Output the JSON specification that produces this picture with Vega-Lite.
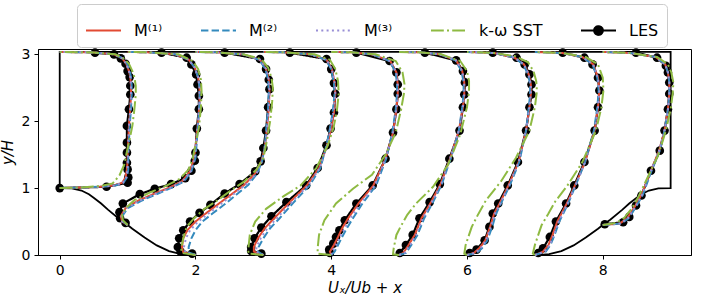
{
"$schema": "https://vega.github.io/schema/vega-lite/v6.json",
"width": 653, "height": 206,
"autosize": {"type": "none"},
"padding": {"left": 38, "top": 49, "right": 15, "bottom": 45},
"config": {"font": "DejaVu Sans", "view": {"stroke": "black", "strokeWidth": 1}},
"datasets": {
"wall": [{"x":1.93,"y":0},{"x":1.79,"y":0.012},{"x":1.61,"y":0.059},{"x":1.43,"y":0.143},{"x":1.25,"y":0.261},{"x":1.07,"y":0.393},{"x":1.0,"y":0.448},{"x":0.89,"y":0.528},{"x":0.71,"y":0.679},{"x":0.61,"y":0.77},{"x":0.5,"y":0.857},{"x":0.43,"y":0.908},{"x":0.32,"y":0.964},{"x":0.18,"y":0.997},{"x":0,"y":1},{"x":0,"y":3.036},{"x":9,"y":3.036},{"x":9,"y":1},{"x":8.82,"y":0.997},{"x":8.68,"y":0.964},{"x":8.57,"y":0.908},{"x":8.5,"y":0.857},{"x":8.39,"y":0.77},{"x":8.29,"y":0.679},{"x":8.11,"y":0.528},{"x":8.0,"y":0.448},{"x":7.93,"y":0.393},{"x":7.75,"y":0.261},{"x":7.57,"y":0.143},{"x":7.39,"y":0.059},{"x":7.21,"y":0.012},{"x":7.07,"y":0}],
"LES": [
{"p":0,"x":0,"y":1.0},{"p":0,"x":0.69,"y":1.02},{"p":0,"x":1.0,"y":1.08},{"p":0,"x":1.01,"y":1.16},{"p":0,"x":1.0,"y":1.28},{"p":0,"x":0.99,"y":1.38},{"p":0,"x":0.99,"y":1.53},{"p":0,"x":0.99,"y":1.68},{"p":0,"x":0.99,"y":1.93},{"p":0,"x":1.02,"y":2.18},{"p":0,"x":1.04,"y":2.4},{"p":0,"x":1.04,"y":2.53},{"p":0,"x":1.03,"y":2.66},{"p":0,"x":1.0,"y":2.75},{"p":0,"x":0.97,"y":2.86},{"p":0,"x":0.9,"y":2.94},{"p":0,"x":0.8,"y":3.0},{"p":0,"x":0.52,"y":3.025},
{"p":1,"x":0.97,"y":0.48},{"p":1,"x":0.89,"y":0.55},{"p":1,"x":0.88,"y":0.64},{"p":1,"x":0.93,"y":0.77},{"p":1,"x":1.18,"y":0.91},{"p":1,"x":1.4,"y":0.99},{"p":1,"x":1.64,"y":1.06},{"p":1,"x":1.85,"y":1.15},{"p":1,"x":1.94,"y":1.26},{"p":1,"x":1.99,"y":1.41},{"p":1,"x":2.0,"y":1.53},{"p":1,"x":2.02,"y":1.89},{"p":1,"x":2.05,"y":2.18},{"p":1,"x":2.05,"y":2.38},{"p":1,"x":2.03,"y":2.55},{"p":1,"x":2.01,"y":2.7},{"p":1,"x":1.94,"y":2.85},{"p":1,"x":1.87,"y":2.95},{"p":1,"x":1.5,"y":3.025},
{"p":2,"x":1.95,"y":0.02},{"p":2,"x":1.78,"y":0.05},{"p":2,"x":1.74,"y":0.12},{"p":2,"x":1.76,"y":0.25},{"p":2,"x":1.82,"y":0.37},{"p":2,"x":1.92,"y":0.5},{"p":2,"x":2.06,"y":0.63},{"p":2,"x":2.22,"y":0.75},{"p":2,"x":2.43,"y":0.92},{"p":2,"x":2.65,"y":1.06},{"p":2,"x":2.88,"y":1.25},{"p":2,"x":2.96,"y":1.4},{"p":2,"x":3.0,"y":1.6},{"p":2,"x":3.04,"y":1.86},{"p":2,"x":3.07,"y":2.21},{"p":2,"x":3.09,"y":2.48},{"p":2,"x":3.08,"y":2.62},{"p":2,"x":3.04,"y":2.78},{"p":2,"x":2.95,"y":2.93},{"p":2,"x":2.43,"y":3.025},
{"p":3,"x":2.97,"y":0.02},{"p":3,"x":2.82,"y":0.06},{"p":3,"x":2.82,"y":0.12},{"p":3,"x":2.87,"y":0.25},{"p":3,"x":2.97,"y":0.41},{"p":3,"x":3.12,"y":0.58},{"p":3,"x":3.34,"y":0.79},{"p":3,"x":3.63,"y":1.04},{"p":3,"x":3.8,"y":1.3},{"p":3,"x":3.93,"y":1.64},{"p":3,"x":3.99,"y":1.89},{"p":3,"x":4.04,"y":2.13},{"p":3,"x":4.06,"y":2.41},{"p":3,"x":4.04,"y":2.57},{"p":3,"x":4.0,"y":2.78},{"p":3,"x":3.93,"y":2.93},{"p":3,"x":3.39,"y":3.025},
{"p":4,"x":3.98,"y":0.03},{"p":4,"x":3.97,"y":0.08},{"p":4,"x":4.03,"y":0.17},{"p":4,"x":4.07,"y":0.27},{"p":4,"x":4.12,"y":0.37},{"p":4,"x":4.2,"y":0.52},{"p":4,"x":4.37,"y":0.77},{"p":4,"x":4.61,"y":1.04},{"p":4,"x":4.8,"y":1.44},{"p":4,"x":4.91,"y":1.83},{"p":4,"x":4.96,"y":2.18},{"p":4,"x":4.98,"y":2.41},{"p":4,"x":4.98,"y":2.55},{"p":4,"x":4.96,"y":2.73},{"p":4,"x":4.86,"y":2.9},{"p":4,"x":4.37,"y":3.025},
{"p":5,"x":5.01,"y":0.03},{"p":5,"x":5.1,"y":0.15},{"p":5,"x":5.2,"y":0.3},{"p":5,"x":5.3,"y":0.55},{"p":5,"x":5.45,"y":0.79},{"p":5,"x":5.6,"y":1.06},{"p":5,"x":5.74,"y":1.44},{"p":5,"x":5.89,"y":1.86},{"p":5,"x":5.94,"y":2.21},{"p":5,"x":5.96,"y":2.4},{"p":5,"x":5.97,"y":2.58},{"p":5,"x":5.94,"y":2.75},{"p":5,"x":5.84,"y":2.91},{"p":5,"x":5.38,"y":3.025},
{"p":6,"x":6.04,"y":0.03},{"p":6,"x":6.14,"y":0.08},{"p":6,"x":6.26,"y":0.22},{"p":6,"x":6.33,"y":0.42},{"p":6,"x":6.38,"y":0.62},{"p":6,"x":6.46,"y":0.77},{"p":6,"x":6.6,"y":1.04},{"p":6,"x":6.75,"y":1.39},{"p":6,"x":6.87,"y":1.86},{"p":6,"x":6.92,"y":2.21},{"p":6,"x":6.95,"y":2.4},{"p":6,"x":6.95,"y":2.55},{"p":6,"x":6.92,"y":2.7},{"p":6,"x":6.85,"y":2.85},{"p":6,"x":6.73,"y":2.95},{"p":6,"x":6.38,"y":3.025},
{"p":7,"x":7.05,"y":0.03},{"p":7,"x":7.12,"y":0.1},{"p":7,"x":7.22,"y":0.27},{"p":7,"x":7.31,"y":0.5},{"p":7,"x":7.46,"y":0.77},{"p":7,"x":7.58,"y":1.04},{"p":7,"x":7.73,"y":1.39},{"p":7,"x":7.88,"y":1.86},{"p":7,"x":7.93,"y":2.21},{"p":7,"x":7.95,"y":2.46},{"p":7,"x":7.93,"y":2.65},{"p":7,"x":7.85,"y":2.85},{"p":7,"x":7.73,"y":2.95},{"p":7,"x":7.41,"y":3.025},
{"p":8,"x":8.03,"y":0.46},{"p":8,"x":8.3,"y":0.49},{"p":8,"x":8.39,"y":0.57},{"p":8,"x":8.49,"y":0.74},{"p":8,"x":8.57,"y":0.89},{"p":8,"x":8.71,"y":1.26},{"p":8,"x":8.84,"y":1.56},{"p":8,"x":8.91,"y":1.86},{"p":8,"x":8.96,"y":2.18},{"p":8,"x":8.98,"y":2.41},{"p":8,"x":8.98,"y":2.58},{"p":8,"x":8.96,"y":2.73},{"p":8,"x":8.93,"y":2.83},{"p":8,"x":8.8,"y":2.95},{"p":8,"x":8.49,"y":3.025}],
"M1": [
{"p":0,"x":0,"y":1},{"p":0,"x":0.3,"y":1.01},{"p":0,"x":0.6,"y":1.02},{"p":0,"x":0.8,"y":1.04},{"p":0,"x":0.92,"y":1.08},{"p":0,"x":0.97,"y":1.16},{"p":0,"x":0.99,"y":1.28},{"p":0,"x":1.0,"y":1.4},{"p":0,"x":1.0,"y":1.55},{"p":0,"x":1.01,"y":1.7},{"p":0,"x":1.02,"y":1.93},{"p":0,"x":1.04,"y":2.18},{"p":0,"x":1.05,"y":2.4},{"p":0,"x":1.05,"y":2.53},{"p":0,"x":1.04,"y":2.66},{"p":0,"x":1.02,"y":2.75},{"p":0,"x":0.98,"y":2.86},{"p":0,"x":0.92,"y":2.94},{"p":0,"x":0.8,"y":3.0},{"p":0,"x":0.5,"y":3.028},{"p":0,"x":0,"y":3.036},
{"p":1,"x":1.0,"y":0.448},{"p":1,"x":0.92,"y":0.5},{"p":1,"x":0.9,"y":0.58},{"p":1,"x":0.97,"y":0.7},{"p":1,"x":1.15,"y":0.81},{"p":1,"x":1.4,"y":0.92},{"p":1,"x":1.62,"y":1.01},{"p":1,"x":1.8,"y":1.1},{"p":1,"x":1.92,"y":1.25},{"p":1,"x":1.98,"y":1.45},{"p":1,"x":2.01,"y":1.7},{"p":1,"x":2.04,"y":2.0},{"p":1,"x":2.06,"y":2.3},{"p":1,"x":2.06,"y":2.5},{"p":1,"x":2.04,"y":2.65},{"p":1,"x":1.99,"y":2.8},{"p":1,"x":1.9,"y":2.92},{"p":1,"x":1.7,"y":3.0},{"p":1,"x":1.3,"y":3.03},{"p":1,"x":1.0,"y":3.036},
{"p":2,"x":2.0,"y":0},{"p":2,"x":1.82,"y":0.04},{"p":2,"x":1.8,"y":0.12},{"p":2,"x":1.82,"y":0.25},{"p":2,"x":1.88,"y":0.37},{"p":2,"x":2.0,"y":0.5},{"p":2,"x":2.15,"y":0.62},{"p":2,"x":2.32,"y":0.75},{"p":2,"x":2.52,"y":0.9},{"p":2,"x":2.72,"y":1.05},{"p":2,"x":2.88,"y":1.22},{"p":2,"x":2.97,"y":1.4},{"p":2,"x":3.02,"y":1.6},{"p":2,"x":3.05,"y":1.86},{"p":2,"x":3.08,"y":2.2},{"p":2,"x":3.09,"y":2.45},{"p":2,"x":3.08,"y":2.62},{"p":2,"x":3.04,"y":2.78},{"p":2,"x":2.95,"y":2.92},{"p":2,"x":2.7,"y":3.0},{"p":2,"x":2.3,"y":3.03},{"p":2,"x":2.0,"y":3.036},
{"p":3,"x":3.0,"y":0},{"p":3,"x":2.86,"y":0.05},{"p":3,"x":2.86,"y":0.12},{"p":3,"x":2.92,"y":0.25},{"p":3,"x":3.02,"y":0.4},{"p":3,"x":3.16,"y":0.55},{"p":3,"x":3.38,"y":0.78},{"p":3,"x":3.64,"y":1.04},{"p":3,"x":3.82,"y":1.3},{"p":3,"x":3.94,"y":1.64},{"p":3,"x":4.0,"y":1.89},{"p":3,"x":4.04,"y":2.13},{"p":3,"x":4.06,"y":2.41},{"p":3,"x":4.05,"y":2.57},{"p":3,"x":4.01,"y":2.78},{"p":3,"x":3.93,"y":2.92},{"p":3,"x":3.7,"y":3.0},{"p":3,"x":3.3,"y":3.03},{"p":3,"x":3.0,"y":3.036},
{"p":4,"x":4.0,"y":0},{"p":4,"x":3.98,"y":0.05},{"p":4,"x":4.04,"y":0.15},{"p":4,"x":4.1,"y":0.27},{"p":4,"x":4.16,"y":0.4},{"p":4,"x":4.25,"y":0.55},{"p":4,"x":4.4,"y":0.77},{"p":4,"x":4.62,"y":1.04},{"p":4,"x":4.8,"y":1.44},{"p":4,"x":4.91,"y":1.83},{"p":4,"x":4.96,"y":2.18},{"p":4,"x":4.98,"y":2.41},{"p":4,"x":4.98,"y":2.55},{"p":4,"x":4.96,"y":2.73},{"p":4,"x":4.87,"y":2.9},{"p":4,"x":4.6,"y":3.0},{"p":4,"x":4.3,"y":3.03},{"p":4,"x":4.0,"y":3.036},
{"p":5,"x":5.0,"y":0},{"p":5,"x":5.06,"y":0.03},{"p":5,"x":5.14,"y":0.15},{"p":5,"x":5.23,"y":0.3},{"p":5,"x":5.33,"y":0.55},{"p":5,"x":5.47,"y":0.79},{"p":5,"x":5.61,"y":1.06},{"p":5,"x":5.75,"y":1.44},{"p":5,"x":5.88,"y":1.86},{"p":5,"x":5.94,"y":2.21},{"p":5,"x":5.96,"y":2.4},{"p":5,"x":5.96,"y":2.58},{"p":5,"x":5.93,"y":2.75},{"p":5,"x":5.84,"y":2.91},{"p":5,"x":5.6,"y":3.0},{"p":5,"x":5.3,"y":3.03},{"p":5,"x":5.0,"y":3.036},
{"p":6,"x":6.0,"y":0},{"p":6,"x":6.1,"y":0.03},{"p":6,"x":6.18,"y":0.1},{"p":6,"x":6.27,"y":0.22},{"p":6,"x":6.34,"y":0.42},{"p":6,"x":6.4,"y":0.62},{"p":6,"x":6.48,"y":0.77},{"p":6,"x":6.61,"y":1.04},{"p":6,"x":6.76,"y":1.39},{"p":6,"x":6.87,"y":1.86},{"p":6,"x":6.92,"y":2.21},{"p":6,"x":6.94,"y":2.4},{"p":6,"x":6.94,"y":2.55},{"p":6,"x":6.91,"y":2.7},{"p":6,"x":6.84,"y":2.85},{"p":6,"x":6.7,"y":2.95},{"p":6,"x":6.4,"y":3.02},{"p":6,"x":6.0,"y":3.036},
{"p":7,"x":7.0,"y":0},{"p":7,"x":7.12,"y":0.05},{"p":7,"x":7.2,"y":0.15},{"p":7,"x":7.26,"y":0.3},{"p":7,"x":7.33,"y":0.5},{"p":7,"x":7.47,"y":0.77},{"p":7,"x":7.59,"y":1.04},{"p":7,"x":7.74,"y":1.39},{"p":7,"x":7.88,"y":1.86},{"p":7,"x":7.93,"y":2.21},{"p":7,"x":7.95,"y":2.46},{"p":7,"x":7.93,"y":2.65},{"p":7,"x":7.86,"y":2.85},{"p":7,"x":7.7,"y":2.96},{"p":7,"x":7.4,"y":3.02},{"p":7,"x":7.0,"y":3.036},
{"p":8,"x":8.0,"y":0.448},{"p":8,"x":8.25,"y":0.47},{"p":8,"x":8.36,"y":0.55},{"p":8,"x":8.47,"y":0.72},{"p":8,"x":8.57,"y":0.9},{"p":8,"x":8.71,"y":1.26},{"p":8,"x":8.83,"y":1.56},{"p":8,"x":8.91,"y":1.86},{"p":8,"x":8.96,"y":2.18},{"p":8,"x":8.98,"y":2.41},{"p":8,"x":8.98,"y":2.58},{"p":8,"x":8.96,"y":2.73},{"p":8,"x":8.92,"y":2.85},{"p":8,"x":8.78,"y":2.96},{"p":8,"x":8.4,"y":3.02},{"p":8,"x":8.0,"y":3.036}],
"M2": [
{"p":0,"x":0,"y":1},{"p":0,"x":0.3,"y":1.01},{"p":0,"x":0.6,"y":1.02},{"p":0,"x":0.82,"y":1.04},{"p":0,"x":0.94,"y":1.08},{"p":0,"x":0.99,"y":1.16},{"p":0,"x":1.01,"y":1.28},{"p":0,"x":1.01,"y":1.4},{"p":0,"x":1.01,"y":1.55},{"p":0,"x":1.02,"y":1.7},{"p":0,"x":1.03,"y":1.93},{"p":0,"x":1.05,"y":2.18},{"p":0,"x":1.06,"y":2.4},{"p":0,"x":1.06,"y":2.53},{"p":0,"x":1.05,"y":2.66},{"p":0,"x":1.03,"y":2.75},{"p":0,"x":0.99,"y":2.86},{"p":0,"x":0.93,"y":2.94},{"p":0,"x":0.8,"y":3.0},{"p":0,"x":0.5,"y":3.028},{"p":0,"x":0,"y":3.036},
{"p":1,"x":1.0,"y":0.448},{"p":1,"x":0.93,"y":0.5},{"p":1,"x":0.92,"y":0.58},{"p":1,"x":1.0,"y":0.7},{"p":1,"x":1.2,"y":0.81},{"p":1,"x":1.45,"y":0.92},{"p":1,"x":1.66,"y":1.01},{"p":1,"x":1.83,"y":1.1},{"p":1,"x":1.94,"y":1.25},{"p":1,"x":2.0,"y":1.45},{"p":1,"x":2.02,"y":1.7},{"p":1,"x":2.04,"y":2.0},{"p":1,"x":2.06,"y":2.3},{"p":1,"x":2.06,"y":2.5},{"p":1,"x":2.04,"y":2.65},{"p":1,"x":1.99,"y":2.8},{"p":1,"x":1.9,"y":2.92},{"p":1,"x":1.7,"y":3.0},{"p":1,"x":1.3,"y":3.03},{"p":1,"x":1.0,"y":3.036},
{"p":2,"x":2.0,"y":0},{"p":2,"x":1.9,"y":0.04},{"p":2,"x":1.9,"y":0.12},{"p":2,"x":1.94,"y":0.25},{"p":2,"x":2.0,"y":0.37},{"p":2,"x":2.1,"y":0.5},{"p":2,"x":2.25,"y":0.62},{"p":2,"x":2.42,"y":0.75},{"p":2,"x":2.6,"y":0.9},{"p":2,"x":2.78,"y":1.05},{"p":2,"x":2.91,"y":1.22},{"p":2,"x":2.98,"y":1.4},{"p":2,"x":3.02,"y":1.6},{"p":2,"x":3.04,"y":1.86},{"p":2,"x":3.07,"y":2.2},{"p":2,"x":3.08,"y":2.45},{"p":2,"x":3.07,"y":2.62},{"p":2,"x":3.03,"y":2.78},{"p":2,"x":2.94,"y":2.92},{"p":2,"x":2.7,"y":3.0},{"p":2,"x":2.3,"y":3.03},{"p":2,"x":2.0,"y":3.036},
{"p":3,"x":3.0,"y":0},{"p":3,"x":2.92,"y":0.05},{"p":3,"x":2.93,"y":0.12},{"p":3,"x":3.0,"y":0.25},{"p":3,"x":3.1,"y":0.4},{"p":3,"x":3.24,"y":0.55},{"p":3,"x":3.44,"y":0.78},{"p":3,"x":3.68,"y":1.04},{"p":3,"x":3.84,"y":1.3},{"p":3,"x":3.93,"y":1.64},{"p":3,"x":3.98,"y":1.89},{"p":3,"x":4.02,"y":2.13},{"p":3,"x":4.05,"y":2.41},{"p":3,"x":4.04,"y":2.57},{"p":3,"x":4.0,"y":2.78},{"p":3,"x":3.92,"y":2.92},{"p":3,"x":3.7,"y":3.0},{"p":3,"x":3.3,"y":3.03},{"p":3,"x":3.0,"y":3.036},
{"p":4,"x":4.0,"y":0},{"p":4,"x":4.05,"y":0.05},{"p":4,"x":4.1,"y":0.15},{"p":4,"x":4.16,"y":0.27},{"p":4,"x":4.23,"y":0.4},{"p":4,"x":4.32,"y":0.55},{"p":4,"x":4.46,"y":0.77},{"p":4,"x":4.66,"y":1.04},{"p":4,"x":4.81,"y":1.44},{"p":4,"x":4.9,"y":1.83},{"p":4,"x":4.95,"y":2.18},{"p":4,"x":4.97,"y":2.41},{"p":4,"x":4.97,"y":2.55},{"p":4,"x":4.95,"y":2.73},{"p":4,"x":4.86,"y":2.9},{"p":4,"x":4.6,"y":3.0},{"p":4,"x":4.3,"y":3.03},{"p":4,"x":4.0,"y":3.036},
{"p":5,"x":5.0,"y":0},{"p":5,"x":5.1,"y":0.03},{"p":5,"x":5.18,"y":0.15},{"p":5,"x":5.27,"y":0.3},{"p":5,"x":5.37,"y":0.55},{"p":5,"x":5.5,"y":0.79},{"p":5,"x":5.63,"y":1.06},{"p":5,"x":5.76,"y":1.44},{"p":5,"x":5.88,"y":1.86},{"p":5,"x":5.93,"y":2.21},{"p":5,"x":5.95,"y":2.4},{"p":5,"x":5.95,"y":2.58},{"p":5,"x":5.92,"y":2.75},{"p":5,"x":5.83,"y":2.91},{"p":5,"x":5.6,"y":3.0},{"p":5,"x":5.3,"y":3.03},{"p":5,"x":5.0,"y":3.036},
{"p":6,"x":6.0,"y":0},{"p":6,"x":6.14,"y":0.03},{"p":6,"x":6.22,"y":0.1},{"p":6,"x":6.3,"y":0.22},{"p":6,"x":6.37,"y":0.42},{"p":6,"x":6.43,"y":0.62},{"p":6,"x":6.5,"y":0.77},{"p":6,"x":6.63,"y":1.04},{"p":6,"x":6.77,"y":1.39},{"p":6,"x":6.87,"y":1.86},{"p":6,"x":6.91,"y":2.21},{"p":6,"x":6.93,"y":2.4},{"p":6,"x":6.93,"y":2.55},{"p":6,"x":6.9,"y":2.7},{"p":6,"x":6.83,"y":2.85},{"p":6,"x":6.7,"y":2.95},{"p":6,"x":6.4,"y":3.02},{"p":6,"x":6.0,"y":3.036},
{"p":7,"x":7.0,"y":0},{"p":7,"x":7.16,"y":0.05},{"p":7,"x":7.23,"y":0.15},{"p":7,"x":7.29,"y":0.3},{"p":7,"x":7.36,"y":0.5},{"p":7,"x":7.49,"y":0.77},{"p":7,"x":7.6,"y":1.04},{"p":7,"x":7.74,"y":1.39},{"p":7,"x":7.87,"y":1.86},{"p":7,"x":7.92,"y":2.21},{"p":7,"x":7.94,"y":2.46},{"p":7,"x":7.92,"y":2.65},{"p":7,"x":7.85,"y":2.85},{"p":7,"x":7.7,"y":2.96},{"p":7,"x":7.4,"y":3.02},{"p":7,"x":7.0,"y":3.036},
{"p":8,"x":8.0,"y":0.448},{"p":8,"x":8.27,"y":0.47},{"p":8,"x":8.38,"y":0.55},{"p":8,"x":8.49,"y":0.72},{"p":8,"x":8.59,"y":0.9},{"p":8,"x":8.72,"y":1.26},{"p":8,"x":8.84,"y":1.56},{"p":8,"x":8.91,"y":1.86},{"p":8,"x":8.96,"y":2.18},{"p":8,"x":8.98,"y":2.41},{"p":8,"x":8.98,"y":2.58},{"p":8,"x":8.96,"y":2.73},{"p":8,"x":8.92,"y":2.85},{"p":8,"x":8.78,"y":2.96},{"p":8,"x":8.4,"y":3.02},{"p":8,"x":8.0,"y":3.036}],
"M3": [
{"p":0,"x":0,"y":1},{"p":0,"x":0.3,"y":1.01},{"p":0,"x":0.6,"y":1.02},{"p":0,"x":0.81,"y":1.04},{"p":0,"x":0.93,"y":1.08},{"p":0,"x":0.98,"y":1.16},{"p":0,"x":1.0,"y":1.28},{"p":0,"x":1.0,"y":1.4},{"p":0,"x":1.01,"y":1.55},{"p":0,"x":1.01,"y":1.7},{"p":0,"x":1.02,"y":1.93},{"p":0,"x":1.04,"y":2.18},{"p":0,"x":1.05,"y":2.4},{"p":0,"x":1.05,"y":2.53},{"p":0,"x":1.04,"y":2.66},{"p":0,"x":1.02,"y":2.75},{"p":0,"x":0.98,"y":2.86},{"p":0,"x":0.92,"y":2.94},{"p":0,"x":0.8,"y":3.0},{"p":0,"x":0.5,"y":3.028},{"p":0,"x":0,"y":3.036},
{"p":1,"x":1.0,"y":0.448},{"p":1,"x":0.92,"y":0.5},{"p":1,"x":0.91,"y":0.58},{"p":1,"x":0.98,"y":0.7},{"p":1,"x":1.17,"y":0.81},{"p":1,"x":1.42,"y":0.92},{"p":1,"x":1.64,"y":1.01},{"p":1,"x":1.81,"y":1.1},{"p":1,"x":1.93,"y":1.25},{"p":1,"x":1.99,"y":1.45},{"p":1,"x":2.01,"y":1.7},{"p":1,"x":2.04,"y":2.0},{"p":1,"x":2.06,"y":2.3},{"p":1,"x":2.06,"y":2.5},{"p":1,"x":2.04,"y":2.65},{"p":1,"x":1.99,"y":2.8},{"p":1,"x":1.9,"y":2.92},{"p":1,"x":1.7,"y":3.0},{"p":1,"x":1.3,"y":3.03},{"p":1,"x":1.0,"y":3.036},
{"p":2,"x":2.0,"y":0},{"p":2,"x":1.85,"y":0.04},{"p":2,"x":1.83,"y":0.12},{"p":2,"x":1.86,"y":0.25},{"p":2,"x":1.92,"y":0.37},{"p":2,"x":2.04,"y":0.5},{"p":2,"x":2.19,"y":0.62},{"p":2,"x":2.36,"y":0.75},{"p":2,"x":2.55,"y":0.9},{"p":2,"x":2.74,"y":1.05},{"p":2,"x":2.9,"y":1.22},{"p":2,"x":2.98,"y":1.4},{"p":2,"x":3.02,"y":1.6},{"p":2,"x":3.05,"y":1.86},{"p":2,"x":3.08,"y":2.2},{"p":2,"x":3.09,"y":2.45},{"p":2,"x":3.08,"y":2.62},{"p":2,"x":3.04,"y":2.78},{"p":2,"x":2.95,"y":2.92},{"p":2,"x":2.7,"y":3.0},{"p":2,"x":2.3,"y":3.03},{"p":2,"x":2.0,"y":3.036},
{"p":3,"x":3.0,"y":0},{"p":3,"x":2.89,"y":0.05},{"p":3,"x":2.9,"y":0.12},{"p":3,"x":2.96,"y":0.25},{"p":3,"x":3.06,"y":0.4},{"p":3,"x":3.2,"y":0.55},{"p":3,"x":3.41,"y":0.78},{"p":3,"x":3.66,"y":1.04},{"p":3,"x":3.83,"y":1.3},{"p":3,"x":3.94,"y":1.64},{"p":3,"x":3.99,"y":1.89},{"p":3,"x":4.03,"y":2.13},{"p":3,"x":4.06,"y":2.41},{"p":3,"x":4.05,"y":2.57},{"p":3,"x":4.01,"y":2.78},{"p":3,"x":3.93,"y":2.92},{"p":3,"x":3.7,"y":3.0},{"p":3,"x":3.3,"y":3.03},{"p":3,"x":3.0,"y":3.036},
{"p":4,"x":4.0,"y":0},{"p":4,"x":4.01,"y":0.05},{"p":4,"x":4.07,"y":0.15},{"p":4,"x":4.13,"y":0.27},{"p":4,"x":4.2,"y":0.4},{"p":4,"x":4.28,"y":0.55},{"p":4,"x":4.43,"y":0.77},{"p":4,"x":4.64,"y":1.04},{"p":4,"x":4.8,"y":1.44},{"p":4,"x":4.91,"y":1.83},{"p":4,"x":4.96,"y":2.18},{"p":4,"x":4.98,"y":2.41},{"p":4,"x":4.98,"y":2.55},{"p":4,"x":4.96,"y":2.73},{"p":4,"x":4.87,"y":2.9},{"p":4,"x":4.6,"y":3.0},{"p":4,"x":4.3,"y":3.03},{"p":4,"x":4.0,"y":3.036},
{"p":5,"x":5.0,"y":0},{"p":5,"x":5.08,"y":0.03},{"p":5,"x":5.16,"y":0.15},{"p":5,"x":5.25,"y":0.3},{"p":5,"x":5.35,"y":0.55},{"p":5,"x":5.48,"y":0.79},{"p":5,"x":5.62,"y":1.06},{"p":5,"x":5.75,"y":1.44},{"p":5,"x":5.88,"y":1.86},{"p":5,"x":5.94,"y":2.21},{"p":5,"x":5.96,"y":2.4},{"p":5,"x":5.96,"y":2.58},{"p":5,"x":5.93,"y":2.75},{"p":5,"x":5.84,"y":2.91},{"p":5,"x":5.6,"y":3.0},{"p":5,"x":5.3,"y":3.03},{"p":5,"x":5.0,"y":3.036},
{"p":6,"x":6.0,"y":0},{"p":6,"x":6.12,"y":0.03},{"p":6,"x":6.2,"y":0.1},{"p":6,"x":6.28,"y":0.22},{"p":6,"x":6.35,"y":0.42},{"p":6,"x":6.41,"y":0.62},{"p":6,"x":6.49,"y":0.77},{"p":6,"x":6.62,"y":1.04},{"p":6,"x":6.76,"y":1.39},{"p":6,"x":6.87,"y":1.86},{"p":6,"x":6.92,"y":2.21},{"p":6,"x":6.94,"y":2.4},{"p":6,"x":6.94,"y":2.55},{"p":6,"x":6.91,"y":2.7},{"p":6,"x":6.84,"y":2.85},{"p":6,"x":6.7,"y":2.95},{"p":6,"x":6.4,"y":3.02},{"p":6,"x":6.0,"y":3.036},
{"p":7,"x":7.0,"y":0},{"p":7,"x":7.14,"y":0.05},{"p":7,"x":7.22,"y":0.15},{"p":7,"x":7.28,"y":0.3},{"p":7,"x":7.35,"y":0.5},{"p":7,"x":7.48,"y":0.77},{"p":7,"x":7.6,"y":1.04},{"p":7,"x":7.74,"y":1.39},{"p":7,"x":7.88,"y":1.86},{"p":7,"x":7.93,"y":2.21},{"p":7,"x":7.95,"y":2.46},{"p":7,"x":7.93,"y":2.65},{"p":7,"x":7.86,"y":2.85},{"p":7,"x":7.7,"y":2.96},{"p":7,"x":7.4,"y":3.02},{"p":7,"x":7.0,"y":3.036},
{"p":8,"x":8.0,"y":0.448},{"p":8,"x":8.26,"y":0.47},{"p":8,"x":8.37,"y":0.55},{"p":8,"x":8.48,"y":0.72},{"p":8,"x":8.58,"y":0.9},{"p":8,"x":8.71,"y":1.26},{"p":8,"x":8.83,"y":1.56},{"p":8,"x":8.91,"y":1.86},{"p":8,"x":8.96,"y":2.18},{"p":8,"x":8.98,"y":2.41},{"p":8,"x":8.98,"y":2.58},{"p":8,"x":8.96,"y":2.73},{"p":8,"x":8.92,"y":2.85},{"p":8,"x":8.78,"y":2.96},{"p":8,"x":8.4,"y":3.02},{"p":8,"x":8.0,"y":3.036}],
"SST": [
{"p":0,"x":0,"y":1},{"p":0,"x":0.3,"y":1.01},{"p":0,"x":0.6,"y":1.03},{"p":0,"x":0.78,"y":1.07},{"p":0,"x":0.88,"y":1.19},{"p":0,"x":0.95,"y":1.35},{"p":0,"x":0.98,"y":1.5},{"p":0,"x":1.02,"y":1.68},{"p":0,"x":1.07,"y":1.93},{"p":0,"x":1.1,"y":2.18},{"p":0,"x":1.12,"y":2.4},{"p":0,"x":1.12,"y":2.53},{"p":0,"x":1.1,"y":2.66},{"p":0,"x":1.07,"y":2.75},{"p":0,"x":1.02,"y":2.86},{"p":0,"x":0.94,"y":2.94},{"p":0,"x":0.82,"y":3.0},{"p":0,"x":0.5,"y":3.028},{"p":0,"x":0,"y":3.036},
{"p":1,"x":1.0,"y":0.448},{"p":1,"x":0.93,"y":0.52},{"p":1,"x":0.92,"y":0.6},{"p":1,"x":0.97,"y":0.7},{"p":1,"x":1.1,"y":0.82},{"p":1,"x":1.34,"y":0.94},{"p":1,"x":1.58,"y":1.04},{"p":1,"x":1.77,"y":1.14},{"p":1,"x":1.9,"y":1.28},{"p":1,"x":1.96,"y":1.45},{"p":1,"x":2.0,"y":1.65},{"p":1,"x":2.05,"y":1.9},{"p":1,"x":2.08,"y":2.2},{"p":1,"x":2.09,"y":2.45},{"p":1,"x":2.08,"y":2.62},{"p":1,"x":2.04,"y":2.78},{"p":1,"x":1.96,"y":2.9},{"p":1,"x":1.75,"y":3.0},{"p":1,"x":1.3,"y":3.03},{"p":1,"x":1.0,"y":3.036},
{"p":2,"x":2.0,"y":0},{"p":2,"x":1.8,"y":0.03},{"p":2,"x":1.79,"y":0.1},{"p":2,"x":1.82,"y":0.25},{"p":2,"x":1.87,"y":0.42},{"p":2,"x":1.98,"y":0.55},{"p":2,"x":2.12,"y":0.68},{"p":2,"x":2.3,"y":0.8},{"p":2,"x":2.5,"y":0.95},{"p":2,"x":2.72,"y":1.1},{"p":2,"x":2.9,"y":1.28},{"p":2,"x":3.0,"y":1.45},{"p":2,"x":3.05,"y":1.7},{"p":2,"x":3.1,"y":2.0},{"p":2,"x":3.13,"y":2.3},{"p":2,"x":3.14,"y":2.5},{"p":2,"x":3.12,"y":2.65},{"p":2,"x":3.07,"y":2.8},{"p":2,"x":2.97,"y":2.93},{"p":2,"x":2.7,"y":3.0},{"p":2,"x":2.3,"y":3.03},{"p":2,"x":2.0,"y":3.036},
{"p":3,"x":3.0,"y":0},{"p":3,"x":2.78,"y":0.02},{"p":3,"x":2.78,"y":0.1},{"p":3,"x":2.8,"y":0.3},{"p":3,"x":2.88,"y":0.5},{"p":3,"x":3.04,"y":0.69},{"p":3,"x":3.3,"y":0.88},{"p":3,"x":3.55,"y":1.04},{"p":3,"x":3.78,"y":1.3},{"p":3,"x":3.95,"y":1.64},{"p":3,"x":4.03,"y":1.89},{"p":3,"x":4.08,"y":2.13},{"p":3,"x":4.11,"y":2.41},{"p":3,"x":4.1,"y":2.6},{"p":3,"x":4.06,"y":2.78},{"p":3,"x":3.98,"y":2.92},{"p":3,"x":3.75,"y":3.0},{"p":3,"x":3.3,"y":3.03},{"p":3,"x":3.0,"y":3.036},
{"p":4,"x":4.0,"y":0},{"p":4,"x":3.8,"y":0.02},{"p":4,"x":3.8,"y":0.1},{"p":4,"x":3.82,"y":0.3},{"p":4,"x":3.9,"y":0.52},{"p":4,"x":4.07,"y":0.77},{"p":4,"x":4.32,"y":0.99},{"p":4,"x":4.6,"y":1.2},{"p":4,"x":4.8,"y":1.5},{"p":4,"x":4.95,"y":1.83},{"p":4,"x":5.03,"y":2.18},{"p":4,"x":5.07,"y":2.41},{"p":4,"x":5.08,"y":2.55},{"p":4,"x":5.05,"y":2.73},{"p":4,"x":4.95,"y":2.9},{"p":4,"x":4.65,"y":3.0},{"p":4,"x":4.3,"y":3.03},{"p":4,"x":4.0,"y":3.036},
{"p":5,"x":5.0,"y":0},{"p":5,"x":4.91,"y":0.01},{"p":5,"x":4.92,"y":0.1},{"p":5,"x":4.96,"y":0.3},{"p":5,"x":5.02,"y":0.42},{"p":5,"x":5.12,"y":0.6},{"p":5,"x":5.25,"y":0.77},{"p":5,"x":5.5,"y":1.02},{"p":5,"x":5.72,"y":1.35},{"p":5,"x":5.9,"y":1.8},{"p":5,"x":6.0,"y":2.21},{"p":5,"x":6.03,"y":2.45},{"p":5,"x":6.03,"y":2.6},{"p":5,"x":6.0,"y":2.75},{"p":5,"x":5.9,"y":2.9},{"p":5,"x":5.62,"y":3.0},{"p":5,"x":5.3,"y":3.03},{"p":5,"x":5.0,"y":3.036},
{"p":6,"x":6.0,"y":0},{"p":6,"x":5.96,"y":0.02},{"p":6,"x":5.98,"y":0.15},{"p":6,"x":6.03,"y":0.3},{"p":6,"x":6.07,"y":0.42},{"p":6,"x":6.16,"y":0.6},{"p":6,"x":6.28,"y":0.82},{"p":6,"x":6.5,"y":1.1},{"p":6,"x":6.72,"y":1.45},{"p":6,"x":6.92,"y":1.86},{"p":6,"x":7.0,"y":2.21},{"p":6,"x":7.03,"y":2.45},{"p":6,"x":7.02,"y":2.6},{"p":6,"x":6.98,"y":2.75},{"p":6,"x":6.9,"y":2.88},{"p":6,"x":6.72,"y":2.97},{"p":6,"x":6.4,"y":3.02},{"p":6,"x":6.0,"y":3.036},
{"p":7,"x":7.0,"y":0},{"p":7,"x":6.97,"y":0.02},{"p":7,"x":7.0,"y":0.15},{"p":7,"x":7.05,"y":0.3},{"p":7,"x":7.1,"y":0.45},{"p":7,"x":7.2,"y":0.62},{"p":7,"x":7.3,"y":0.8},{"p":7,"x":7.48,"y":1.04},{"p":7,"x":7.7,"y":1.39},{"p":7,"x":7.9,"y":1.86},{"p":7,"x":7.98,"y":2.21},{"p":7,"x":8.01,"y":2.46},{"p":7,"x":8.0,"y":2.65},{"p":7,"x":7.93,"y":2.85},{"p":7,"x":7.75,"y":2.96},{"p":7,"x":7.4,"y":3.02},{"p":7,"x":7.0,"y":3.036},
{"p":8,"x":8.0,"y":0.448},{"p":8,"x":8.2,"y":0.48},{"p":8,"x":8.32,"y":0.56},{"p":8,"x":8.43,"y":0.7},{"p":8,"x":8.53,"y":0.88},{"p":8,"x":8.68,"y":1.2},{"p":8,"x":8.82,"y":1.5},{"p":8,"x":8.93,"y":1.86},{"p":8,"x":9.0,"y":2.18},{"p":8,"x":9.03,"y":2.41},{"p":8,"x":9.04,"y":2.58},{"p":8,"x":9.01,"y":2.73},{"p":8,"x":8.96,"y":2.85},{"p":8,"x":8.8,"y":2.96},{"p":8,"x":8.4,"y":3.02},{"p":8,"x":8.0,"y":3.036}]
},
"encoding": {
"x": {"field": "x", "type": "quantitative", "scale": {"domain": [-0.32, 9.3], "nice": false, "zero": false},
"axis": {"title": "Uₓ/Ub + x", "values": [0, 2, 4, 6, 8], "grid": false, "tickSize": 4, "tickColor": "black", "domainColor": "black", "labelColor": "black", "labelFontSize": 14, "labelPadding": 4, "titleFontSize": 15, "titleFontStyle": "italic", "titleFontWeight": "normal", "titleColor": "black", "titlePadding": 3}},
"y": {"field": "y", "type": "quantitative", "scale": {"domain": [0, 3.08], "nice": false, "zero": false},
"axis": {"title": "y/H", "values": [0, 1, 2, 3], "grid": false, "tickSize": 4, "tickColor": "black", "domainColor": "black", "labelColor": "black", "labelFontSize": 14, "labelPadding": 4, "titleFontSize": 15, "titleFontStyle": "italic", "titleFontWeight": "normal", "titleColor": "black", "titlePadding": 6}}
},
"layer": [
{"data": {"name": "wall"}, "mark": {"type": "line", "color": "black", "strokeWidth": 1.8}, "encoding": {"order": {"value": null}}},
{"data": {"name": "LES"}, "mark": {"type": "line", "strokeWidth": 2.2},
 "encoding": {"detail": {"field": "p"}, "order": {"field": "y", "type": "quantitative"},
  "color": {"datum": "LES", "type": "nominal", "scale": {"domain": ["M⁽¹⁾", "M⁽²⁾", "M⁽³⁾", "k-ω SST", "LES"], "range": ["#E24A33", "#348ABD", "#988ED5", "#8EBA42", "#000000"]},
   "legend": {"title": null, "orient": "none", "legendX": 39, "legendY": -45, "direction": "horizontal", "columns": 5, "gridAlign": "none", "columnPadding": 34, "symbolType": "stroke", "symbolSize": 1225, "symbolStrokeWidth": 2, "labelFontSize": 16, "labelColor": "black", "labelOffset": 12, "padding": 8, "strokeColor": "#cccccc", "fillColor": "white", "cornerRadius": 4,
    "encode": {"symbols": {"update": {"shape": [{"test": "datum.value === 'LES'", "value": "M-1,0H1M-0.25,0A0.25,0.25,0,1,1,0.25,0A0.25,0.25,0,1,1,-0.25,0Z"}, {"value": "stroke"}], "fill": [{"test": "datum.value === 'LES'", "value": "black"}, {"value": "transparent"}]}}}}},
  "strokeDash": {"datum": "LES", "type": "nominal", "scale": {"domain": ["M⁽¹⁾", "M⁽²⁾", "M⁽³⁾", "k-ω SST", "LES"], "range": [[1, 0], [7.4, 3.2], [2, 3.3], [12.8, 3.2, 2, 3.2], [1, 0]]},
   "legend": {"title": null, "orient": "none", "legendX": 39, "legendY": -45, "direction": "horizontal", "columns": 5, "gridAlign": "none", "columnPadding": 34, "symbolType": "stroke", "symbolSize": 1225, "symbolStrokeWidth": 2, "labelFontSize": 16, "labelColor": "black", "labelOffset": 12, "padding": 8, "strokeColor": "#cccccc", "fillColor": "white", "cornerRadius": 4}}}},
{"data": {"name": "LES"}, "mark": {"type": "point", "filled": true, "color": "black", "size": 75, "opacity": 1}},
{"data": {"name": "M1"}, "mark": {"type": "line", "strokeWidth": 2}, "encoding": {"detail": {"field": "p"}, "order": {"field": "y", "type": "quantitative"}, "color": {"datum": "M⁽¹⁾", "type": "nominal"}, "strokeDash": {"datum": "M⁽¹⁾", "type": "nominal"}}},
{"data": {"name": "M2"}, "mark": {"type": "line", "strokeWidth": 2}, "encoding": {"detail": {"field": "p"}, "order": {"field": "y", "type": "quantitative"}, "color": {"datum": "M⁽²⁾", "type": "nominal"}, "strokeDash": {"datum": "M⁽²⁾", "type": "nominal"}}},
{"data": {"name": "M3"}, "mark": {"type": "line", "strokeWidth": 2}, "encoding": {"detail": {"field": "p"}, "order": {"field": "y", "type": "quantitative"}, "color": {"datum": "M⁽³⁾", "type": "nominal"}, "strokeDash": {"datum": "M⁽³⁾", "type": "nominal"}}},
{"data": {"name": "SST"}, "mark": {"type": "line", "strokeWidth": 2}, "encoding": {"detail": {"field": "p"}, "order": {"field": "y", "type": "quantitative"}, "color": {"datum": "k-ω SST", "type": "nominal"}, "strokeDash": {"datum": "k-ω SST", "type": "nominal"}}}
]
}
